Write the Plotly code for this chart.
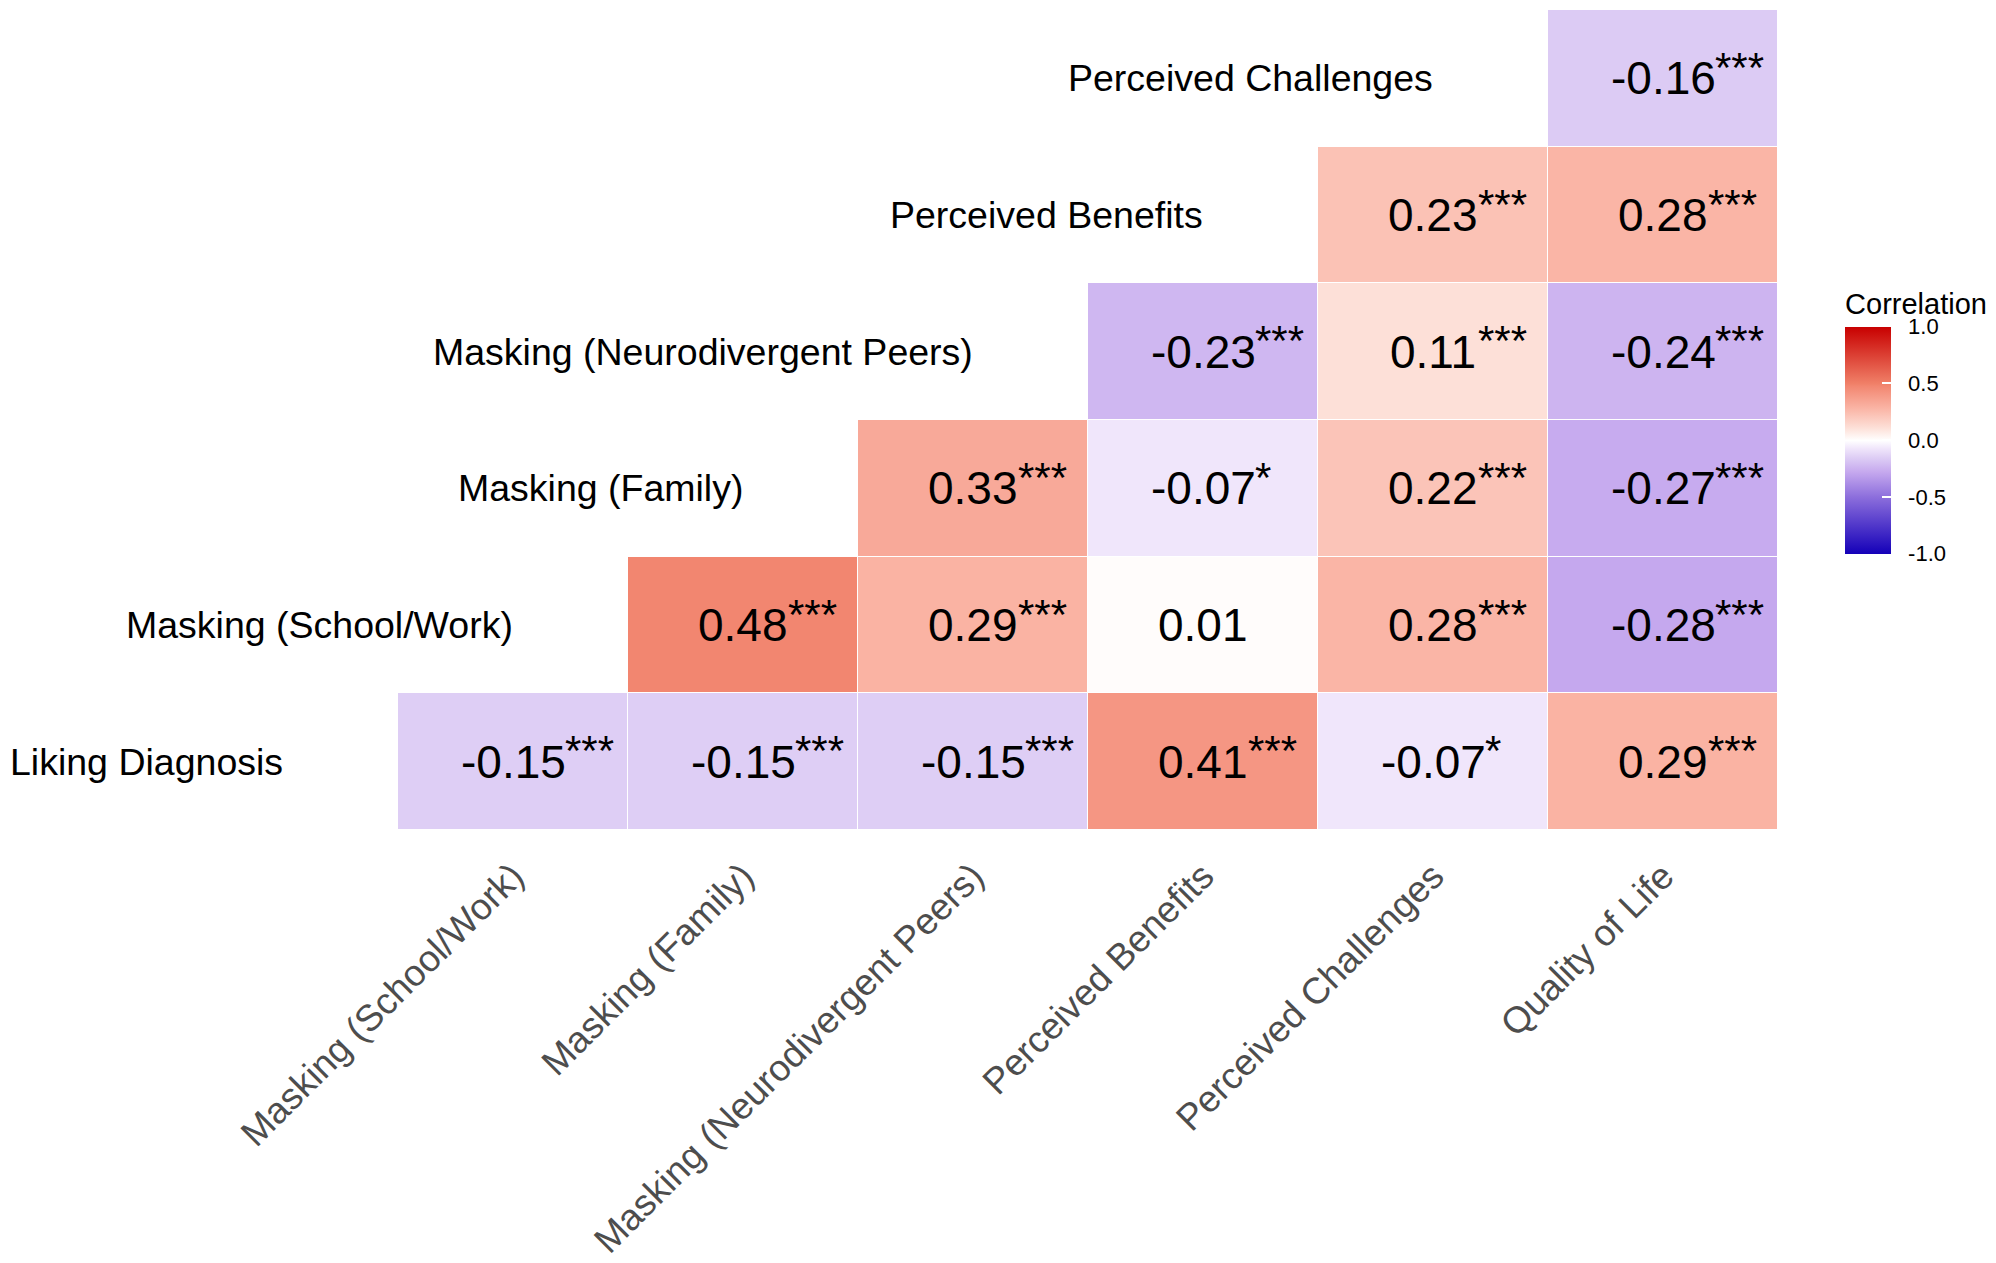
import plotly.graph_objects as go

# variables (rows from bottom to top, columns left to right)
row_labels = ["Liking Diagnosis", "Masking (School/Work)", "Masking (Family)",
              "Masking (Neurodivergent Peers)", "Perceived Benefits", "Perceived Challenges"]
col_labels = ["Masking (School/Work)", "Masking (Family)", "Masking (Neurodivergent Peers)",
              "Perceived Benefits", "Perceived Challenges", "Quality of Life"]

# correlation values, None = hidden half of the matrix
r_liking = [-0.15, -0.15, -0.15, 0.41, -0.07, 0.29]
r_school = [None, 0.48, 0.29, 0.01, 0.28, -0.28]
r_family = [None, None, 0.33, -0.07, 0.22, -0.27]
r_peers = [None, None, None, -0.23, 0.11, -0.24]
r_benefits = [None, None, None, None, 0.23, 0.28]
r_challenges = [None, None, None, None, None, -0.16]
corr = [r_liking, r_school, r_family, r_peers, r_benefits, r_challenges]

# significance stars
s_liking = ["***", "***", "***", "***", "*", "***"]
s_school = [None, "***", "***", "", "***", "***"]
s_family = [None, None, "***", "*", "***", "***"]
s_peers = [None, None, None, "***", "***", "***"]
s_benefits = [None, None, None, None, "***", "***"]
s_challenges = [None, None, None, None, None, "***"]
stars = [s_liking, s_school, s_family, s_peers, s_benefits, s_challenges]

colorscale = [
    [0.00, "#1400b8"],
    [0.25, "#8c6edc"],
    [0.36, "#c5a8ee"],
    [0.42, "#dccbf4"],
    [0.465, "#f0e6fb"],
    [0.50, "#ffffff"],
    [0.555, "#fde0d8"],
    [0.64, "#fab5a6"],
    [0.74, "#f28670"],
    [0.75, "#f08068"],
    [1.00, "#c80000"],
]

FONT = "Liberation Sans, Arial, Helvetica, sans-serif"
NUM_SIZE = 46
STAR_SIZE = 42
glyph_w = {"-": 0.333, ".": 0.278}
NB = "\u00a0"


def text_width(s, size):
    return sum(glyph_w.get(c, 0.556) for c in s) * size


n = len(col_labels)
fig = go.Figure()
fig.add_trace(go.Heatmap(
    z=corr,
    x=list(range(n)),
    y=list(range(len(row_labels))),
    zmin=-1, zmax=1,
    colorscale=colorscale,
    xgap=1, ygap=1,
    hoverinfo="skip",
    colorbar=dict(
        title=dict(text="Correlation", side="top", font=dict(size=29, color="black")),
        x=1.0486, xanchor="left", xpad=0,
        y=0.337, yanchor="bottom", ypad=0,
        thickness=46, len=264, lenmode="pixels",
        outlinewidth=0,
        tickvals=[-1, -0.5, 0, 0.5, 1],
        ticktext=[NB * 2 + t for t in ["-1.0", "-0.5", "0.0", "0.5", "1.0"]],
        ticks="inside", ticklen=9, tickcolor="white", tickwidth=1.5,
        tickfont=dict(size=22, color="black"),
    ),
))

annotations = []
for i, row in enumerate(corr):
    for j, v in enumerate(row):
        if v is None:
            continue
        label = f"{v:.2f}"
        annotations.append(dict(
            x=j, y=i, xref="x", yref="y", text=label, showarrow=False,
            xanchor="center", yanchor="middle",
            font=dict(size=NUM_SIZE, color="black", family=FONT),
        ))
        if stars[i][j]:
            annotations.append(dict(
                x=j, y=i, xref="x", yref="y", text=stars[i][j], showarrow=False,
                xanchor="left", yanchor="middle",
                xshift=text_width(label, NUM_SIZE) / 2 - 2, yshift=11,
                font=dict(size=STAR_SIZE, color="black", family=FONT),
            ))

# row labels sit half a cell left of the first cell of each row
for i, name in enumerate(row_labels):
    annotations.append(dict(
        x=i - 0.5, y=i, xref="x", yref="y", text=name, showarrow=False,
        xanchor="right", yanchor="middle", xshift=-113,
        font=dict(size=37.5, color="black", family=FONT),
    ))

fig.update_layout(
    width=1988, height=1255,
    margin=dict(l=390, r=218, t=2, b=431),
    paper_bgcolor="white", plot_bgcolor="white",
    font=dict(family=FONT),
    annotations=annotations,
    xaxis=dict(
        range=[-0.5, n - 0.5], tickvals=list(range(n)), ticktext=col_labels,
        tickangle=-45, tickfont=dict(size=37, color="#4d4d4d"),
        ticklabelstandoff=16,
        showgrid=False, zeroline=False, showline=False, ticks="",
    ),
    yaxis=dict(
        range=[-0.5, len(row_labels) - 0.5], showticklabels=False,
        showgrid=False, zeroline=False, showline=False, ticks="",
    ),
)

fig.write_html("out.html")
